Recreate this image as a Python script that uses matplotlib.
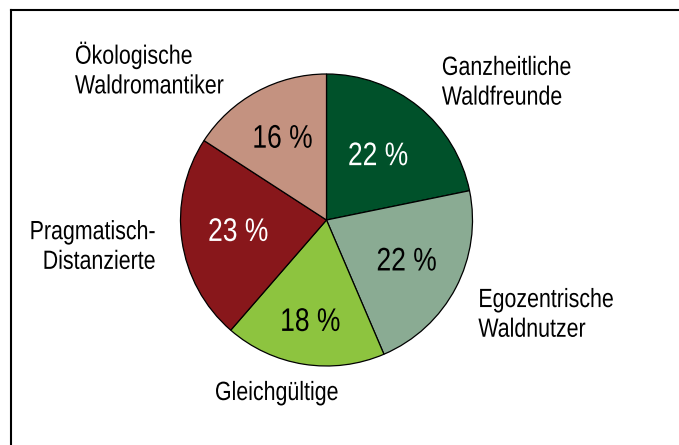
import numpy as np
import matplotlib
matplotlib.use("Agg")
import matplotlib.pyplot as plt
from matplotlib.lines import Line2D
from matplotlib.patheffects import AbstractPathEffect
from matplotlib.transforms import Affine2D

plt.rcParams["font.family"] = ["Liberation Sans", "DejaVu Sans"]

# data, clockwise from 12 o'clock
groups = [
    "Ganzheitliche\nWaldfreunde",
    "Egozentrische\nWaldnutzer",
    "Gleichgültige",
    "Pragmatisch-\nDistanzierte",
    "Ökologische\nWaldromantiker",
]
shares = [22, 22, 18, 23, 16]

colors = ["#00512a", "#8aab93", "#8dc43f", "#88171b", "#c49280"]
pct_colors = ["white", "black", "black", "white", "black"]
pct_dist = [0.56, 0.62, 0.71, 0.61, 0.63]

# outer label placement (pie units) and alignment
label_pos = [(0.79, 0.94), (1.04, -0.65), (-0.34, -1.185), (-1.168, -0.185), (-1.723, 1.027)]
label_ha = ["left", "left", "center", "right", "left"]


class Narrow(AbstractPathEffect):
    """squeeze text horizontally to mimic a condensed face"""

    def __init__(self, sx=0.82, frac=0.0):
        super().__init__()
        self.sx = sx
        self.frac = frac

    def draw_path(self, renderer, gc, tpath, affine, rgbFace=None):
        xs = tpath.vertices[:, 0]
        w = xs.max() if len(xs) else 0
        pre = Affine2D().scale(self.sx, 1).translate(self.frac * (1 - self.sx) * w, 0)
        renderer.draw_path(gc, tpath, pre + affine, rgbFace)


FRAC = {"left": 0.0, "center": 0.5, "right": 1.0}

fig = plt.figure(figsize=(6.79, 4.45), dpi=100)
ax = fig.add_axes([0, 0, 1, 1])

wedges, _ = ax.pie(
    shares,
    colors=colors,
    startangle=90,
    counterclock=False,
    wedgeprops=dict(edgecolor="black", linewidth=0.9),
)

for w, val, d, c in zip(wedges, shares, pct_dist, pct_colors):
    mid = np.deg2rad((w.theta1 + w.theta2) / 2)
    ax.text(d * np.cos(mid), d * np.sin(mid), f"{val} %", ha="center", va="center",
            fontsize=23.5, color=c, path_effects=[Narrow(0.81, 0.5)])

for lab, (x, y), ha in zip(groups, label_pos, label_ha):
    ax.text(x, y, lab, ha=ha, va="center", fontsize=19, linespacing=1.3,
            multialignment=ha, path_effects=[Narrow(0.81, FRAC[ha])])

px = 146.0
ax.set_xlim(-326.5 / px, (679 - 326.5) / px)
ax.set_ylim((220 - 445) / px, 220 / px)
ax.set_aspect("auto")
ax.axis("off")

# frame (only top and left edges visible)
fig.add_artist(Line2D([11 / 679, 1], [1 - 10 / 445, 1 - 10 / 445], color="black", lw=1.5,
                      transform=fig.transFigure))
fig.add_artist(Line2D([11 / 679, 11 / 679], [0, 1 - 10 / 445], color="black", lw=1.5,
                      transform=fig.transFigure))

fig.savefig("out.png", dpi=100)
